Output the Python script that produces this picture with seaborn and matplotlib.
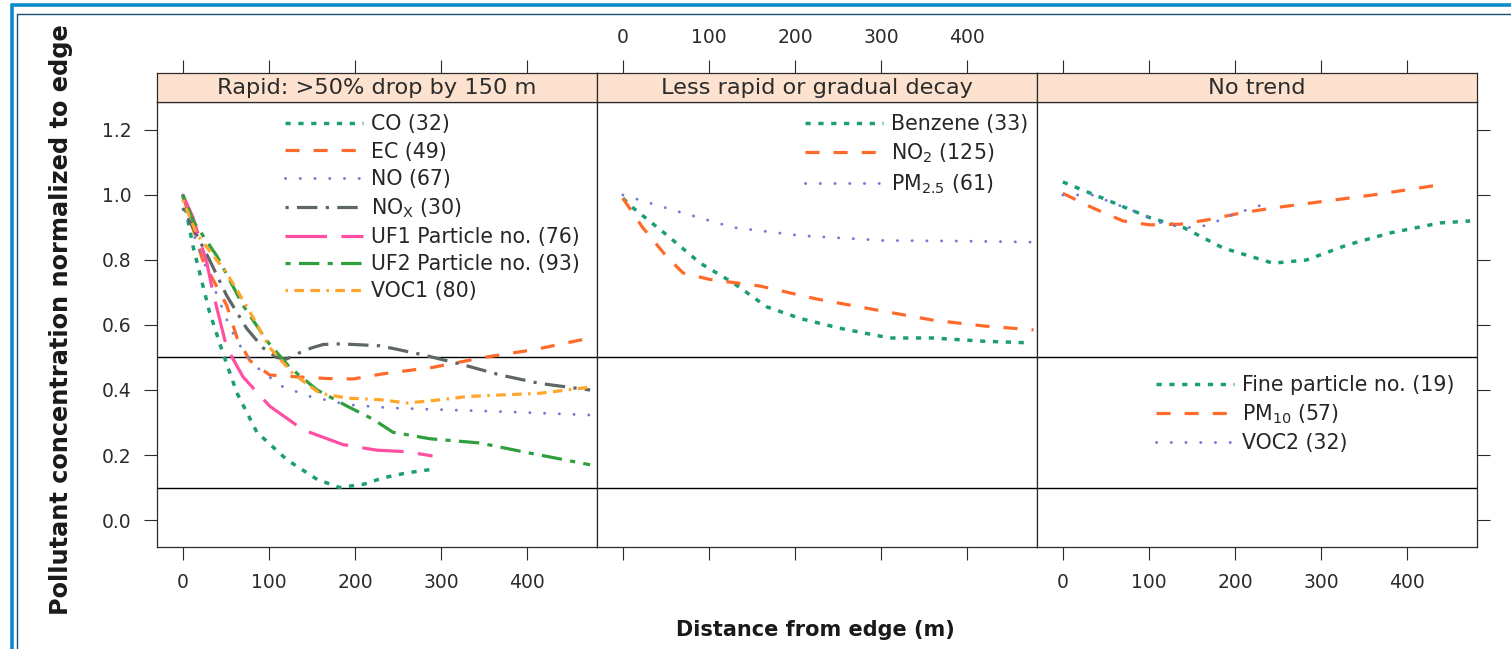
import numpy as np
import pandas as pd
import matplotlib
matplotlib.use('Agg')
import matplotlib.pyplot as plt
from matplotlib.lines import Line2D
import seaborn as sns

sns.set_theme(style='white')
plt.rcParams['font.family'] = ['DejaVu Sans']
plt.rcParams['mathtext.default'] = 'regular'

panels = ["Rapid: >50% drop by 150 m", "Less rapid or gradual decay", "No trend"]

# Rapid panel
co_d = [0, 12, 31, 47, 63, 86, 121, 156, 182, 210, 233, 260, 287]
co_v = [1.0, 0.84, 0.64, 0.51, 0.39, 0.27, 0.185, 0.125, 0.10, 0.11, 0.13, 0.145, 0.155]
ec_d = [0, 23, 51, 63, 78, 101, 136, 170, 198, 233, 291, 349, 410, 473]
ec_v = [1.0, 0.80, 0.66, 0.56, 0.49, 0.446, 0.44, 0.435, 0.434, 0.45, 0.47, 0.50, 0.525, 0.56]
no_d = [0, 16, 40, 55, 70, 90, 116, 148, 191, 240, 295, 376, 473]
no_v = [1.0, 0.85, 0.69, 0.59, 0.52, 0.46, 0.41, 0.38, 0.355, 0.345, 0.34, 0.333, 0.323]
nox_d = [0, 31, 51, 74, 93, 109, 120, 136, 150, 163, 183, 229, 276, 322, 369, 415, 473]
nox_v = [0.96, 0.80, 0.69, 0.59, 0.53, 0.50, 0.495, 0.515, 0.53, 0.54, 0.542, 0.536, 0.51, 0.48, 0.446, 0.42, 0.40]
uf1_d = [0, 12, 28, 35, 51, 70, 101, 140, 186, 225, 260, 290]
uf1_v = [1.0, 0.93, 0.79, 0.70, 0.53, 0.44, 0.35, 0.277, 0.232, 0.215, 0.21, 0.197]
uf2_d = [0, 12, 40, 70, 98, 124, 156, 191, 221, 244, 287, 345, 395, 473]
uf2_v = [1.0, 0.92, 0.81, 0.66, 0.55, 0.47, 0.40, 0.35, 0.31, 0.27, 0.25, 0.237, 0.21, 0.17]
voc1_d = [0, 16, 51, 78, 101, 128, 159, 191, 230, 260, 300, 330, 415, 477]
voc1_v = [0.985, 0.88, 0.76, 0.64, 0.53, 0.45, 0.39, 0.375, 0.37, 0.36, 0.37, 0.38, 0.39, 0.41]

# Less rapid panel
benz_d = [0, 12, 51, 90, 128, 167, 206, 252, 310, 360, 419, 473]
benz_v = [0.99, 0.96, 0.877, 0.79, 0.73, 0.656, 0.62, 0.59, 0.56, 0.56, 0.55, 0.545]
no2_d = [0, 23, 51, 70, 101, 159, 225, 295, 360, 419, 477]
no2_v = [0.99, 0.90, 0.81, 0.76, 0.74, 0.72, 0.68, 0.646, 0.615, 0.597, 0.585]
pm25_d = [0, 63, 128, 206, 302, 400, 473]
pm25_v = [1.0, 0.95, 0.90, 0.875, 0.86, 0.858, 0.855]

# No trend panel
fine_d = [0, 51, 101, 140, 186, 244, 283, 330, 380, 438, 473]
fine_v = [1.04, 0.985, 0.93, 0.90, 0.837, 0.79, 0.80, 0.846, 0.883, 0.914, 0.92]
pm10_d = [0, 35, 70, 101, 136, 167, 206, 244, 302, 360, 430]
pm10_v = [1.005, 0.96, 0.92, 0.908, 0.91, 0.923, 0.944, 0.96, 0.98, 1.0, 1.028]
voc2_d = [0, 34, 93, 109, 140, 157, 174, 188, 203, 220, 238]
voc2_v = [1.0, 1.0, 0.94, 0.917, 0.90, 0.90, 0.913, 0.93, 0.944, 0.96, 0.975]

series = [
    (0, "CO (32)", co_d, co_v),
    (0, "EC (49)", ec_d, ec_v),
    (0, "NO (67)", no_d, no_v),
    (0, "NO$_{X}$ (30)", nox_d, nox_v),
    (0, "UF1 Particle no. (76)", uf1_d, uf1_v),
    (0, "UF2 Particle no. (93)", uf2_d, uf2_v),
    (0, "VOC1 (80)", voc1_d, voc1_v),
    (1, "Benzene (33)", benz_d, benz_v),
    (1, "NO$_{2}$ (125)", no2_d, no2_v),
    (1, "PM$_{2.5}$ (61)", pm25_d, pm25_v),
    (2, "Fine particle no. (19)", fine_d, fine_v),
    (2, "PM$_{10}$ (57)", pm10_d, pm10_v),
    (2, "VOC2 (32)", voc2_d, voc2_v),
]

# color, dash pattern (lw units), linewidth, round caps
green = '#1b9e77'
orange = '#ff6a2a'
lav = '#7479d6'
styles = {
    "CO (32)": (green, (1.5, 2.2), 2.5, False),
    "EC (49)": (orange, (4.4, 4.4), 2.3, False),
    "NO (67)": (lav, (0.05, 5.0), 2.1, True),
    "NO$_{X}$ (30)": ('#5e6666', (1.0, 2.6, 6.4, 2.6), 2.3, False),
    "UF1 Particle no. (76)": ('#ff4fa3', (13, 4.5), 2.3, False),
    "UF2 Particle no. (93)": ('#2f9e3c', (1.6, 2.6, 6.4, 2.6), 2.3, False),
    "VOC1 (80)": ('#ffa62b', (0.8, 2.0, 3.0, 2.0, 3.0, 2.0), 2.3, False),
    "Benzene (33)": (green, (1.5, 2.2), 2.5, False),
    "NO$_{2}$ (125)": (orange, (4.4, 4.4), 2.3, False),
    "PM$_{2.5}$ (61)": (lav, (0.05, 5.0), 2.1, True),
    "Fine particle no. (19)": (green, (1.5, 2.2), 2.5, False),
    "PM$_{10}$ (57)": (orange, (4.4, 4.4), 2.3, False),
    "VOC2 (32)": (lav, (0.05, 5.0), 2.1, True),
}

W, H = 1511, 649
fig = plt.figure(figsize=(W / 100, H / 100), dpi=100)

ink = '#2b2b2b'
tick_len = 9.4
lefts = [157, 597, 1037]
axes, strips = [], []
for i, left in enumerate(lefts):
    ax = fig.add_axes([left / W, (H - 547) / H, 440 / W, 445 / H])
    st = fig.add_axes([left / W, (H - 102) / H, 440 / W, 29 / H])
    axes.append(ax)
    strips.append(st)

leg_pos = [(0.29, 0.972), (0.472, 0.972), (0.27, 0.386)]

for i, ax in enumerate(axes):
    rows = [s for s in series if s[0] == i]
    for _, lab, d, v in rows:
        col, dash, lw, rnd = styles[lab]
        df = pd.DataFrame({'dist': d, 'conc': v})
        sns.lineplot(data=df, x='dist', y='conc', ax=ax, color=col, lw=lw,
                     linestyle=(0, dash), label=lab,
                     dash_capstyle='round' if rnd else 'butt')
    ax.axhline(0.5, color='black', lw=1.0, zorder=1)
    ax.axhline(0.1, color='black', lw=1.0, zorder=1)
    ax.set_xlim(-30, 481)
    ax.set_ylim(-0.083, 1.286)
    ax.set_xticks([0, 100, 200, 300, 400])
    ax.set_yticks([0, 0.2, 0.4, 0.6, 0.8, 1.0, 1.2])
    ax.set_yticklabels(['0.0', '0.2', '0.4', '0.6', '0.8', '1.0', '1.2'])
    ax.set_xlabel('')
    ax.set_ylabel('')
    for sp in ax.spines.values():
        sp.set_color(ink)
        sp.set_linewidth(0.9)
    ax.tick_params(axis='both', direction='out', length=tick_len, width=0.8,
                   color=ink, labelcolor=ink, labelsize=13.5, pad=9)
    ax.tick_params(axis='x', bottom=True, labelbottom=(i != 1))
    ax.tick_params(axis='y', left=(i == 0), labelleft=(i == 0),
                   right=(i == 2), labelright=False)
    ax.legend(loc='upper left', bbox_to_anchor=leg_pos[i], frameon=False,
              fontsize=14.8, handlelength=3.8, handletextpad=0.4,
              labelspacing=0.35, borderpad=0, borderaxespad=0)

    st = strips[i]
    st.set_facecolor('#fde3cf')
    st.set_xlim(-30, 481)
    st.set_ylim(0, 1)
    st.set_yticks([])
    st.set_xticks([0, 100, 200, 300, 400])
    for sp in st.spines.values():
        sp.set_color(ink)
        sp.set_linewidth(0.9)
    st.tick_params(axis='x', bottom=False, labelbottom=False, top=True,
                   labeltop=(i == 1), direction='out', length=tick_len,
                   width=0.8, color=ink, labelcolor=ink, labelsize=13.5, pad=9)
    st.text(0.5, 0.47, panels[i], transform=st.transAxes, ha='center',
            va='center', fontsize=16.2, color=ink)

fig.text(61 / W, 1 - 320 / H, 'Pollutant concentration normalized to edge',
         rotation=90, ha='center', va='center', fontsize=17.3,
         fontweight='bold', color='#1a1a1a')
fig.text(815 / W, 1 - 630 / H, 'Distance from edge (m)', ha='center',
         va='center', fontsize=15, fontweight='bold', color='#1a1a1a')

# blue frame of the figure
fig.add_artist(Line2D([12 / W, 12 / W], [0, 1 - 5 / H], color='#0a8ccc', lw=2.6))
fig.add_artist(Line2D([12 / W, 1], [1 - 5 / H, 1 - 5 / H], color='#0a8ccc', lw=2.6))
fig.add_artist(Line2D([16.5 / W, 16.5 / W], [0, 1 - 13.5 / H], color='#1d4e74', lw=1.0))
fig.add_artist(Line2D([16.5 / W, 1], [1 - 13.5 / H, 1 - 13.5 / H], color='#1d4e74', lw=1.0))

fig.savefig('out.png', dpi=100)
